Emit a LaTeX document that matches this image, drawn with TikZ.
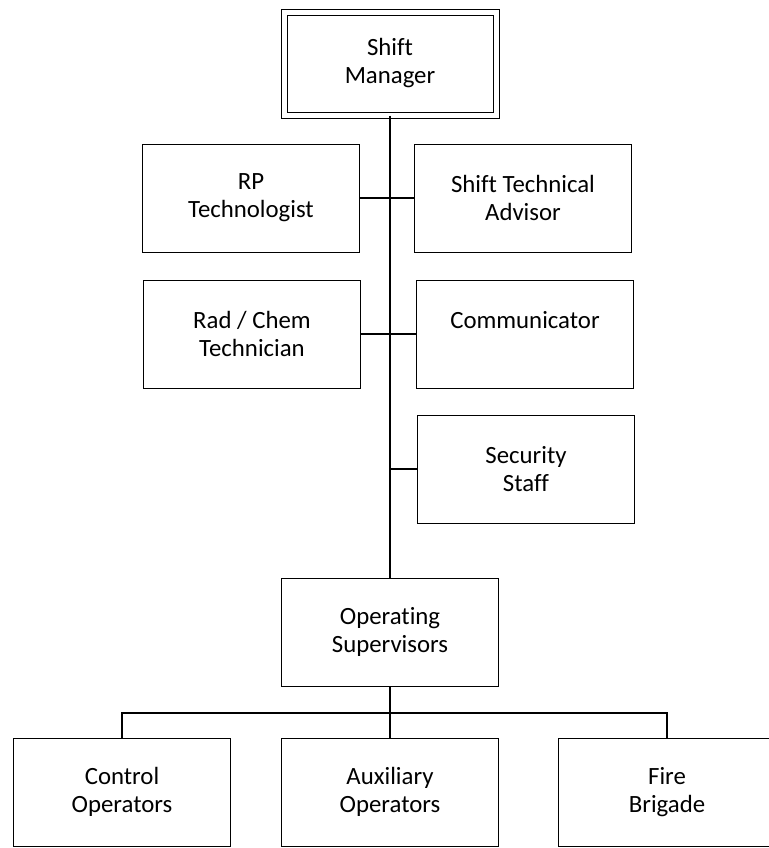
\documentclass[tikz,border=0pt]{standalone}
\usepackage{fontspec}
\setmainfont[Ligatures=NoCommon]{Carlito}
\begin{document}
\begin{tikzpicture}[x=0.5pt,y=-0.5pt]
            \useasboundingbox (0,0) rectangle (769,848);
            \begin{scope}[every node/.style={rectangle,draw,line width=0.5pt,minimum width=108.5pt,minimum height=54pt,align=center,font=\fontsize{12.4}{14}\selectfont}]
                \node (SM) at (390,63.5) [double,double distance=2.5pt,minimum width=106pt,minimum height=51.5pt] {Shift\\Manager};
                \node (RP) at (251,198) {RP\\Technologist};
                \node (STA) at (523,198) {Shift Technical\\Advisor};
                \node (RC) at (252,334) {Rad / Chem\\Technician};
                \node (COM) at (525,334) {Communicator\\\mbox{}};
                \node (SEC) at (526,469) {Security\\Staff};
                \node (OS) at (390,632) {Operating\\Supervisors};
                \node (CO) at (122,792) {Control\\Operators};
                \node (AO) at (390,792) {Auxiliary\\Operators};
                \node (FB) at (667,792) {Fire\\Brigade};
            \end{scope}
            \coordinate (bus) at (390,713);
            \begin{scope}[every path/.style={line width=1.2pt}]
                \draw (SM.south) -- (OS.north);
                \draw (RP.east) -- (STA.west);
                \draw (RC.east) -- (COM.west);
                \draw (SEC.west) -- (SEC.west -| SM.south);
                \draw (OS.south) -- (bus);
                \draw (CO.north) |- (bus) -| (FB.north);
                \draw (bus) -- (AO.north);
            \end{scope}
        \end{tikzpicture}
\end{document}
